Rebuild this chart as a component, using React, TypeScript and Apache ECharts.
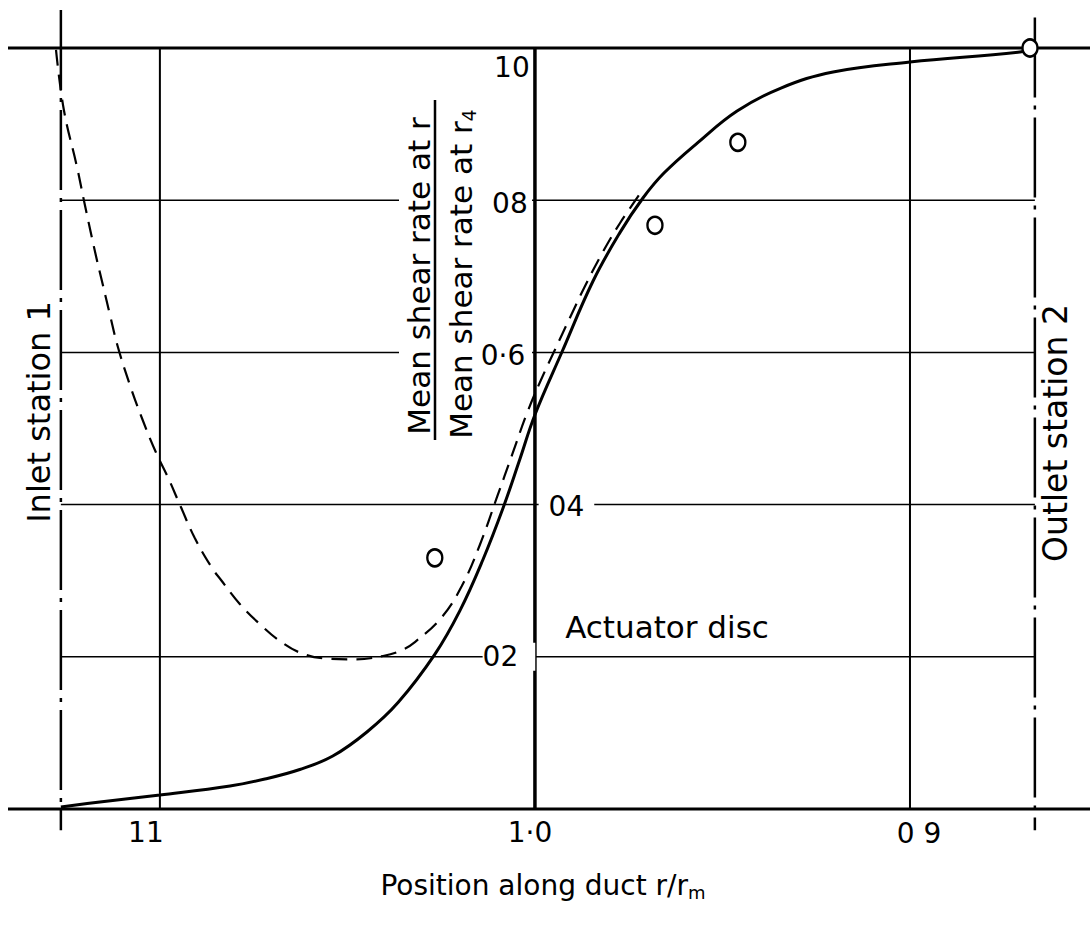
import React, { useEffect, useRef } from "react";
import * as echarts from "echarts";

// ---- data ----
const solidX = [1.1264, 1.116, 1.1, 1.0813, 1.072, 1.0627, 1.0539, 1.0448, 1.0365, 1.0267, 1.02, 1.0139, 1.0085, 1.004, 1.0, 0.9928, 0.9845, 0.9773, 0.9712, 0.9656, 0.9565, 0.9461, 0.9344, 0.9205, 0.9, 0.8707, 0.8667];
const solidY = [0.0026, 0.0092, 0.0184, 0.0302, 0.0394, 0.0519, 0.0696, 0.1012, 0.1399, 0.2032, 0.2607, 0.3272, 0.3955, 0.4599, 0.5181, 0.6005, 0.6938, 0.7577, 0.8029, 0.8357, 0.876, 0.9172, 0.9474, 0.9685, 0.9816, 0.9947, 1.0];

const dashedX = [1.1277, 1.1256, 1.1221, 1.12, 1.1171, 1.1152, 1.1133, 1.1112, 1.108, 1.1048, 1.1011, 1.0979, 1.0944, 1.0907, 1.0861, 1.0837, 1.0787, 1.0731, 1.068, 1.0624, 1.056, 1.048, 1.0405, 1.036, 1.032, 1.0248, 1.0195, 1.0147, 1.0101, 1.0061, 1.0021, 0.9984, 0.9947, 0.9907, 0.9869, 0.9819, 0.9773, 0.9715];
const dashedY = [0.9974, 0.9185, 0.8436, 0.7937, 0.728, 0.6886, 0.6491, 0.6071, 0.5572, 0.5138, 0.4691, 0.4363, 0.3968, 0.3561, 0.3167, 0.3009, 0.2694, 0.2418, 0.2208, 0.205, 0.1978, 0.1965, 0.2011, 0.2076, 0.2194, 0.2523, 0.293, 0.3469, 0.41, 0.4652, 0.5204, 0.5637, 0.6032, 0.6452, 0.6846, 0.7319, 0.77, 0.8121];

const measuredX = [1.0267, 0.968, 0.9459, 0.868];
const measuredY = [0.33, 0.767, 0.876, 1.0];

const yTickValues = [1.0, 0.8, 0.6, 0.4, 0.2];
const yTickLabels = ["10", "08", "0·6", "04", "02"];
const xTickValues = [1.1, 1.0, 0.9];
const xTickLabels = ["11", "1·0", "0 9"];
const gridYValues = [0.2, 0.4, 0.6, 0.8];
const frameYValues = [0, 1];
const stationX = [1.1264, 0.8667];
const stationLabels = ["Inlet station 1", "Outlet station 2"];
const discLabel = "Actuator disc";
const xTitle = "Position along duct r/r{sub|m}";
const yTitleTop = "Mean shear rate at r";
const yTitleBottom = "Mean shear rate at r{sub|4}";

// ---- layout (not data) ----
const X_MIN = 0.852;
const X_MAX = 1.1405;
const Y_MIN = -0.1;
const Y_MAX = 1.05;
const FONT = "DejaVu Sans";
const INK = "#000";

const yLabelLayout: any[] = [
  { offset: [-23, 19] },
  { offset: [-25, 3] },
  { offset: [-32, 3] },
  { offset: [31.5, 2], backgroundColor: "#fff", padding: [0, 10] },
  { offset: [-26, 0], backgroundColor: "#fff", padding: [0, 17, 0, 0] },
];
const xLabelLayout: any[] = [
  { offset: [-14, 23] },
  { offset: [-5, 23] },
  { offset: [9, 24] },
];
const stationSpan = [
  [-0.028, 1.05],
  [-0.028, 1.04],
];

function lineSeries(data: number[][], width: number, type: any, z: number) {
  return {
    type: "line",
    data,
    symbol: "none",
    showSymbol: false,
    silent: true,
    clip: false,
    z,
    lineStyle: { color: INK, width, type, cap: "butt", opacity: 1 },
  };
}

export default function App() {
  const ref = useRef<HTMLDivElement>(null);

  useEffect(() => {
    if (!ref.current) return;
    const chart = echarts.init(ref.current, undefined, { renderer: "svg" });

    const series: any[] = [];
    frameYValues.forEach((y) =>
      series.push(lineSeries([[X_MAX, y], [X_MIN, y]], 3, "solid", 1))
    );
    gridYValues.forEach((y) =>
      series.push(lineSeries([[stationX[0], y], [stationX[1], y]], 1.5, "solid", 1))
    );
    xTickValues.forEach((x) =>
      series.push(lineSeries([[x, 0], [x, 1]], x === 1.0 ? 3.5 : 2, "solid", 1))
    );
    stationX.forEach((x, i) =>
      series.push(
        lineSeries([[x, stationSpan[i][1]], [x, stationSpan[i][0]]], 2.5, [80, 8, 4, 8], 1)
      )
    );

    series.push({
      type: "line",
      data: solidX.map((x, i) => [x, solidY[i]]),
      smooth: 0.4,
      symbol: "none",
      showSymbol: false,
      clip: false,
      z: 5,
      lineStyle: { color: INK, width: 3, opacity: 1 },
    });
    series.push({
      type: "line",
      data: dashedX.map((x, i) => [x, dashedY[i]]),
      smooth: 0.4,
      symbol: "none",
      showSymbol: false,
      clip: false,
      z: 5,
      lineStyle: { color: INK, width: 2.2, type: [16, 9], opacity: 1 },
    });
    series.push({
      type: "scatter",
      data: measuredX.map((x, i) => [x, measuredY[i]]),
      symbol: "circle",
      symbolSize: [15, 17],
      z: 6,
      itemStyle: { color: "#fff", borderColor: INK, borderWidth: 2.5, opacity: 1 },
    });

    const labelBase = {
      show: true,
      position: "inside",
      formatter: "{b}",
      fontSize: 28,
      fontFamily: FONT,
      color: INK,
      opacity: 1,
      textBorderWidth: 0,
    };
    series.push({
      type: "scatter",
      symbolSize: 0,
      z: 8,
      itemStyle: { color: "#000", opacity: 1 },
      label: labelBase,
      data: [
        ...yTickValues.map((v, i) => ({
          name: yTickLabels[i],
          value: [1.0, v],
          label: { ...labelBase, ...yLabelLayout[i] },
        })),
        ...xTickValues.map((v, i) => ({
          name: xTickLabels[i],
          value: [v, 0],
          label: { ...labelBase, ...xLabelLayout[i] },
        })),
      ],
    });

    const textStyle = (text: string, size: number, extra: any = {}) => ({
      text,
      fontSize: size,
      fontFamily: FONT,
      fill: INK,
      align: "center",
      verticalAlign: "middle",
      ...extra,
    });

    chart.setOption({
      animation: false,
      backgroundColor: "#fff",
      grid: {
        left: 8,
        right: 0,
        top: 809 - Y_MAX * 761,
        bottom: 929 - (809 - Y_MIN * 761),
        containLabel: false,
      },
      xAxis: {
        type: "value",
        min: X_MIN,
        max: X_MAX,
        inverse: true,
        show: false,
      },
      yAxis: {
        type: "value",
        min: Y_MIN,
        max: Y_MAX,
        show: false,
      },
      series,
      graphic: [
        {
          type: "rect",
          z: 3,
          silent: true,
          shape: { x: 399, y: 90, width: 133, height: 360 },
          style: { fill: "#fff" },
        },
        {
          type: "line",
          z: 7,
          shape: { x1: 435, y1: 100, x2: 435, y2: 440 },
          style: { stroke: INK, lineWidth: 2.5 },
        },
        {
          type: "text",
          z: 7,
          x: 419,
          y: 276,
          rotation: Math.PI / 2,
          style: textStyle(yTitleTop, 31),
        },
        {
          type: "text",
          z: 7,
          x: 461,
          y: 274,
          rotation: Math.PI / 2,
          style: textStyle(yTitleBottom, 31, {
            rich: {
              sub: { fontSize: 19, fontFamily: FONT, fill: INK, padding: [16, 0, 0, 0] },
            },
          }),
        },
        {
          type: "text",
          z: 7,
          x: 39,
          y: 412,
          rotation: Math.PI / 2,
          style: textStyle(stationLabels[0], 32),
        },
        {
          type: "text",
          z: 7,
          x: 1055,
          y: 433,
          rotation: Math.PI / 2,
          style: textStyle(stationLabels[1], 33),
        },
        {
          type: "text",
          z: 7,
          x: 667,
          y: 627,
          style: textStyle(discLabel, 31),
        },
        {
          type: "text",
          z: 7,
          x: 543,
          y: 885,
          style: textStyle(xTitle, 28, {
            rich: {
              sub: { fontSize: 18, fontFamily: FONT, fill: INK, padding: [14, 0, 0, 0] },
            },
          }),
        },
      ],
    });

    return () => chart.dispose();
  }, []);

  return (
    <div
      ref={ref}
      style={{ position: "fixed", left: 0, top: 0, width: 1090, height: 929, background: "#fff" }}
    />
  );
}
